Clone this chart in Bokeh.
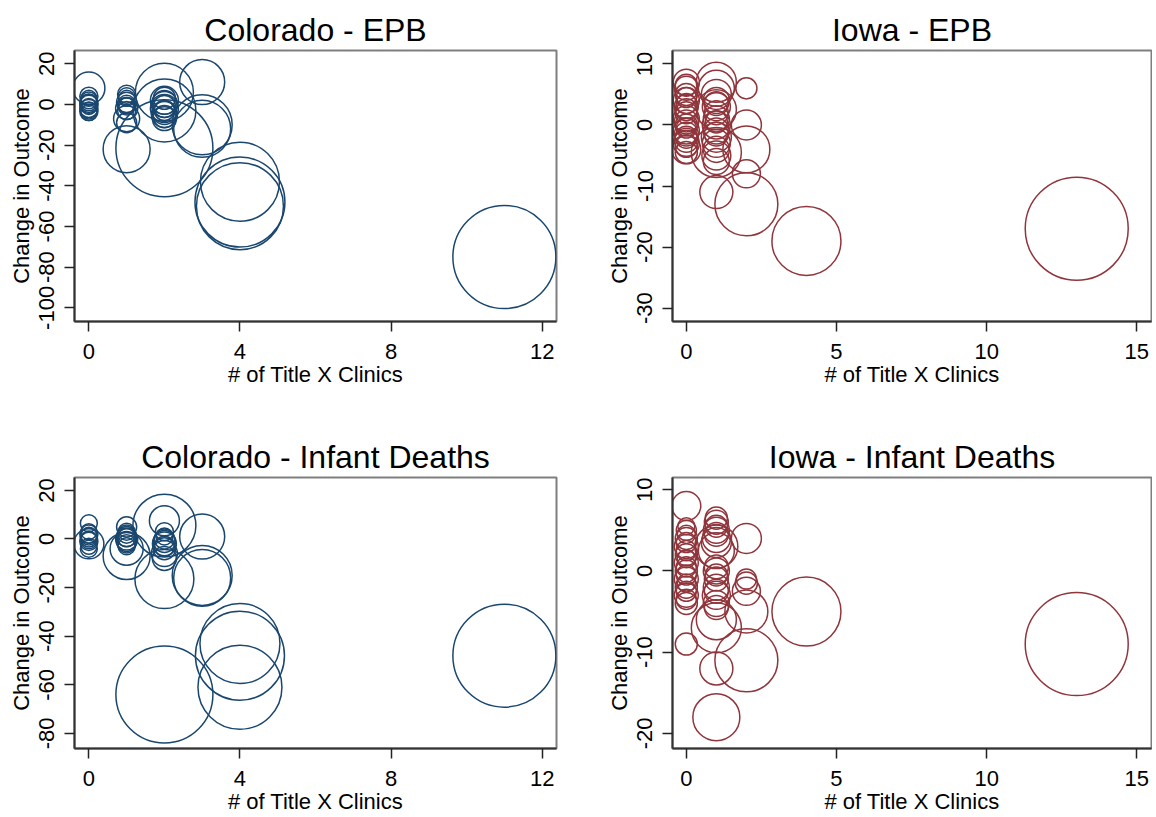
import numpy as np
from bokeh.plotting import figure
from bokeh.layouts import gridplot
from bokeh.models import Range1d, FixedTicker, ColumnDataSource
from bokeh.embed import file_html
from bokeh.resources import INLINE

# ---------------- data ----------------
x_label = "# of Title X Clinics"
y_label = "Change in Outcome"

co_ticks_x = [0, 4, 8, 12]
ia_ticks_x = [0, 5, 10, 15]

# Colorado - EPB
co_epb_x = [0] * 12 + [1] * 12 + [2] * 14 + [3, 3, 3, 4, 4, 4, 11]
co_epb_y = [8, 4, 3, 2, 1, 0.5, 0, -1, -2, -3, -3.5, -4,
            5, 4, 3, 1, 0, -0.5, -1, -2, -3, -7, -9, -22,
            6, -3, -21.5, 3, 2, 1, 0, -1, -2, -3, -4, -5, -6, -7,
            11, -10, -12,
            -38, -48, -50,
            -75]
co_epb_w = [97, 31, 24, 27, 27, 31, 31, 24, 31, 27, 31, 24,
            31, 27, 24, 38, 31, 24, 27, 46, 31, 64, 38, 208,
            317, 374, 887, 46, 74, 54, 64, 46, 74, 38, 54, 64, 46, 54,
            191, 339, 306,
            588, 763, 713,
            1000]
co_epb_yticks = [-100, -80, -60, -40, -20, 0, 20]

# Iowa - EPB
ia_epb_x = [0] * 22 + [1] * 20 + [2] * 5 + [4, 13]
ia_epb_y = [7, 6.5, 6, 5, 4.5, 4, 3.5, 3, 2.5, 2, 1, 0.5, 0, -0.5, -1, -1.5, -2, -2.5, -3, -3.5, -4, -4.5,
            7, 6, 5, 4, 3.5, 3, 2.5, 2, 1, 0.5, 0, -1, -1.5, -2, -3, -4, -5, -6, -4.5, -11,
            6, 0, -4, -8, -13,
            -19, -17]
ia_epb_w = [64, 46, 54, 46, 38, 64, 38, 54, 46, 46, 64, 54, 46, 38, 64, 54, 46, 54, 64, 46, 79, 46,
            151, 122, 85, 64, 54, 74, 151, 54, 64, 46, 74, 64, 54, 85, 74, 64, 79, 64, 236, 103,
            42, 85, 208, 74, 374,
            449, 1000]
ia_epb_yticks = [-30, -20, -10, 0, 10]

# Colorado - Infant Deaths
co_inf_x = [0] * 11 + [1] * 11 + [2] * 13 + [3, 3, 3, 4, 4, 4, 11]
co_inf_y = [6.5, 3, 2, 1.5, 1, 0, -0.5, -1, -2, -3, -4,
            5, 3, 2, 1, 0.5, 0, -1, -2, -3, -4, -7,
            7.5, 5.5, 3, 1, 0, -1, -2, -3, -4, -6, -8, -16.5, -64,
            1, -15, -16,
            -43, -48, -61,
            -48]
co_inf_w = [27, 24, 31, 24, 27, 24, 27, 31, 85, 24, 27,
            38, 27, 31, 38, 31, 46, 38, 31, 27, 103, 208,
            85, 374, 31, 27, 38, 46, 54, 38, 46, 64, 54, 328, 887,
            191, 339, 306,
            603, 747, 665,
            1000]
co_inf_yticks = [-80, -60, -40, -20, 0, 20]

# Iowa - Infant Deaths
ia_inf_x = [0] * 22 + [1] * 21 + [2] * 6 + [4, 13]
ia_inf_y = [8, 5.5, 5, 4.5, 4, 3.5, 3, 2.5, 2, 1.5, 1, 0.5, 0, -0.5, -1, -1.5, -2, -2.5, -3, -3.5, -4, -9,
            6.5, 6, 5.5, 5, 4.5, 4, 3.5, 3, 2.5, 0.5, 0, -0.5, -1, -2, -2.5, -3, -4, -4.5, -6, -7, -12,
            4, -1, -1.5, -2.5, -5, -11,
            -5, -9]
ia_inf_w = [79, 27, 38, 31, 46, 38, 54, 38, 46, 31, 54, 38, 46, 38, 54, 31, 46, 38, 54, 38, 46, 46,
            46, 54, 46, 64, 54, 74, 85, 174, 122, 54, 64, 46, 54, 64, 54, 74, 64, 54, 151, 236, 103,
            85, 38, 46, 74, 174, 374,
            449, 1000]
ia_inf_x = ia_inf_x[:43] + [1] + ia_inf_x[43:]
ia_inf_y = ia_inf_y[:43] + [-18] + ia_inf_y[43:]
ia_inf_w = ia_inf_w[:43] + [208] + ia_inf_w[43:]
ia_inf_yticks = [-20, -10, 0, 10]

# ---------------- styling ----------------
NAVY = "#1a476f"
MAROON = "#90353b"
FONT = "Liberation Sans"
MAX_D = 103


def labels(ticks):
    return {float(t): str(t) for t in ticks}


def make(title, xs, ys, ws, color, xr, yr, xt, yt, width, height, bl, br, bt, bb):
    p = figure(width=width, height=height, output_backend="svg", toolbar_location=None,
               x_range=Range1d(*xr), y_range=Range1d(*yr),
               min_border_left=bl, min_border_right=br, min_border_top=bt, min_border_bottom=bb,
               background_fill_color="white", border_fill_color="white")
    w = np.array(ws, dtype=float)
    size = MAX_D * np.sqrt(w / w.max())
    src = ColumnDataSource(dict(x=xs, y=ys, s=size))
    p.scatter("x", "y", size="s", source=src, marker="circle", fill_color=None,
              line_color=color, line_width=1.5)

    p.title.text = title
    p.title.align = "center"
    p.title.text_font = FONT
    p.title.text_font_size = "32px"
    p.title.text_font_style = "normal"
    p.title.text_color = "#000000"
    p.title.standoff = 5

    p.xgrid.visible = False
    p.ygrid.visible = False
    p.outline_line_color = "#7f7f7f"
    p.outline_line_width = 2

    for ax in (p.xaxis[0], p.yaxis[0]):
        ax.minor_tick_line_color = None
        ax.major_tick_in = 0
        ax.major_tick_out = 10
        ax.major_tick_line_color = "#222222"
        ax.major_tick_line_width = 1.5
        ax.axis_line_color = "#333333"
        ax.axis_line_width = 2
        ax.major_label_text_font = FONT
        ax.major_label_text_font_size = "22px"
        ax.major_label_text_color = "#000000"
        ax.axis_label_text_font = FONT
        ax.axis_label_text_font_size = "22px"
        ax.axis_label_text_font_style = "normal"
        ax.axis_label_text_color = "#000000"

    p.xaxis.ticker = FixedTicker(ticks=xt)
    p.yaxis.ticker = FixedTicker(ticks=yt)
    p.xaxis.major_label_overrides = labels(xt)
    p.yaxis.major_label_overrides = labels(yt)
    p.xaxis.axis_label = x_label
    p.yaxis.axis_label = y_label
    p.xaxis.major_label_standoff = 12
    p.xaxis.axis_label_standoff = 0
    p.yaxis.major_label_orientation = "vertical"
    p.yaxis.major_label_standoff = 10
    p.yaxis.axis_label_standoff = 3
    return p


co_xr = (-0.38, 12.38)
ia_xr = (-0.46, 15.49)

# left column 600 wide (frame 74..556), right column 552 wide (frame 672..1151)
# top row 430 high (frame 50..321), bottom row 386 high (frame 477..748)
p1 = make("Colorado - EPB", co_epb_x, co_epb_y, co_epb_w, NAVY, co_xr, (-106.7, 26.5),
          co_ticks_x, co_epb_yticks, 600, 430, 74, 44, 50, 109)
p2 = make("Iowa - EPB", ia_epb_x, ia_epb_y, ia_epb_w, MAROON, ia_xr, (-32.2, 12.2),
          ia_ticks_x, ia_epb_yticks, 552, 430, 72, 1, 50, 109)
p3 = make("Colorado - Infant Deaths", co_inf_x, co_inf_y, co_inf_w, NAVY, co_xr, (-86.2, 25.3),
          co_ticks_x, co_inf_yticks, 600, 386, 74, 44, 47, 68)
p4 = make("Iowa - Infant Deaths", ia_inf_x, ia_inf_y, ia_inf_w, MAROON, ia_xr, (-21.85, 11.5),
          ia_ticks_x, ia_inf_yticks, 552, 386, 72, 1, 47, 68)

grid = gridplot([[p1, p2], [p3, p4]], toolbar_location=None)

open("out.html", "w").write(file_html(grid, INLINE))
